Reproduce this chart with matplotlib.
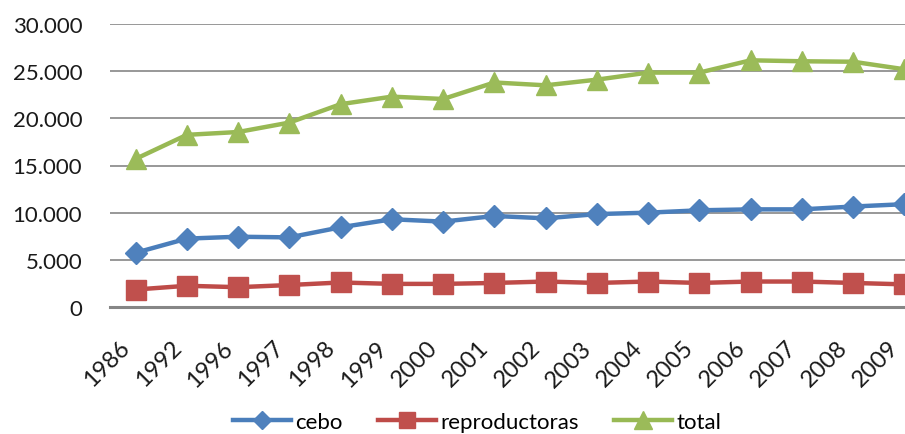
import matplotlib
matplotlib.use('Agg')
import matplotlib.pyplot as plt
import matplotlib.transforms as mtransforms

plt.rcParams['font.family'] = ['Lato', 'DejaVu Sans']

years = ['1986', '1992', '1996', '1997', '1998', '1999', '2000', '2001',
         '2002', '2003', '2004', '2005', '2006', '2007', '2008', '2009']

cebo = [5750, 7250, 7450, 7380, 8450, 9300, 9050, 9650,
        9400, 9850, 10000, 10250, 10350, 10350, 10650, 10900]
reproductoras = [1850, 2250, 2100, 2330, 2600, 2450, 2450, 2550,
                 2700, 2550, 2700, 2550, 2700, 2700, 2550, 2400]
total = [15700, 18250, 18550, 19550, 21500, 22300, 22050, 23800,
         23500, 24100, 24850, 24850, 26150, 26050, 26000, 25200]

y_ticks = [0, 5000, 10000, 15000, 20000, 25000, 30000]
y_labels = ['0', '5.000', '10.000', '15.000', '20.000', '25.000', '30.000']

fig = plt.figure(figsize=(9.05, 4.35), dpi=100)
# axes run past the right edge, like the cropped original
ax = fig.add_axes([110/905, 1 - 308/435, 820/905, 283/435])

x = range(len(years))
ax.plot(x, cebo, color='#4A7EBB', lw=3.2, marker='D', ms=11,
        mfc='#4F81BD', mec='#4F81BD', label='cebo', zorder=3)
ax.plot(x, reproductoras, color='#BE4B48', lw=3.2, marker='s', ms=14,
        mfc='#C0504D', mec='#C0504D', label='reproductoras', zorder=3)
ax.plot(x, total, color='#98B954', lw=3.2, marker='^', ms=15,
        mfc='#9BBB59', mec='#9BBB59', label='total', zorder=3)

ax.set_xlim(-0.5, len(years) - 0.5)
ax.set_ylim(0, 30000)
ax.set_yticks(y_ticks)
ax.set_yticklabels(y_labels, fontsize=16)
ax.set_xticks(list(x))
ax.set_xticklabels(years, fontsize=17, rotation=45, ha='right', va='bottom',
                   rotation_mode='anchor')
ax.tick_params(axis='both', length=0, colors='#1a1a1a')
ax.tick_params(axis='y', pad=20)
ax.tick_params(axis='x', pad=32)

# nudge the year labels a little left so the last one stays inside
shift = mtransforms.ScaledTranslation(-1.5/100, 0, fig.dpi_scale_trans)
for lbl in ax.get_xticklabels():
    lbl.set_transform(lbl.get_transform() + shift)

ax.grid(axis='y', color='#868686', lw=1.2)
ax.set_axisbelow(True)
for s in ['top', 'right', 'left']:
    ax.spines[s].set_visible(False)
ax.spines['bottom'].set_color('#868686')
ax.spines['bottom'].set_linewidth(2.2)

fig.legend(loc='center', bbox_to_anchor=(477/905, 1 - 423/435), ncol=3,
           frameon=False, fontsize=16, handlelength=2.6, handletextpad=0.2,
           columnspacing=1.6, borderaxespad=0, markerscale=0.85)

fig.savefig('out.png', dpi=100)
